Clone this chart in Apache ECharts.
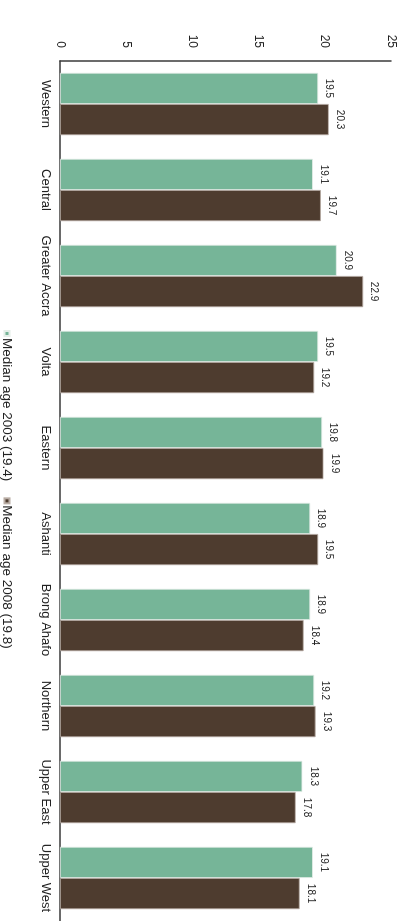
<!DOCTYPE html>
<html>
<head>
<meta charset="utf-8">
<script src="https://cdn.jsdelivr.net/npm/echarts@6/dist/echarts.min.js"></script>
<style>
html,body{margin:0;padding:0;width:402px;height:921px;overflow:hidden;background:#fff;}
#wrap{position:absolute;left:0;top:0;width:921px;height:402px;transform-origin:0 0;transform:translate(402px,0) rotate(90deg);}
</style>
</head>
<body>
<div id="wrap"></div>
<script>
const categories = ["Western","Central","Greater Accra","Volta","Eastern","Ashanti","Brong Ahafo","Northern","Upper East","Upper West"];
const median2003 = [19.5,19.1,20.9,19.5,19.8,18.9,18.9,19.2,18.3,19.1];
const median2008 = [20.3,19.7,22.9,19.2,19.9,19.5,18.4,19.3,17.8,18.1];
const seriesNames = ["Median age 2003 (19.4)","Median age 2008 (19.8)"];

const chart = echarts.init(document.getElementById('wrap'), null, {renderer:'canvas'});
const font = 'Liberation Sans, Arial, sans-serif';
const labelCfg = {show:true, position:'top', distance:6, fontSize:10, color:'#222', fontFamily:font};
chart.setOption({
  animation:false,
  textStyle:{fontFamily:font},
  legend:{
    left:325, top:383, itemWidth:5, itemHeight:5, itemGap:16, icon:'rect',
    textStyle:{fontSize:13.5, color:'#222', fontFamily:font, padding:[0,0,0,-3]},
    data:seriesNames
  },
  grid:{left:61, right:-10, top:11, bottom:60, containLabel:false},
  xAxis:{
    type:'category', data:categories,
    axisLine:{lineStyle:{color:'#3a3a3a', width:1.5}},
    axisTick:{show:false},
    axisLabel:{fontSize:13, color:'#222', margin:8, fontFamily:font, interval:0}
  },
  yAxis:{
    type:'value', min:0, max:25, interval:5,
    axisLine:{show:true, lineStyle:{color:'#3a3a3a', width:1.5}},
    axisTick:{show:false},
    splitLine:{show:false},
    axisLabel:{fontSize:12, color:'#222', margin:13, fontFamily:font}
  },
  series:[
    {name:seriesNames[0], type:'bar', data:median2003, barGap:'0%', barCategoryGap:'27.5%',
     itemStyle:{color:'#76b598', borderColor:'#e4eee8', borderWidth:0.8}, label:labelCfg},
    {name:seriesNames[1], type:'bar', data:median2008,
     itemStyle:{color:'#4e3c2f', borderColor:'#b8aca4', borderWidth:0.8}, label:labelCfg}
  ]
});
</script>
</body>
</html>
